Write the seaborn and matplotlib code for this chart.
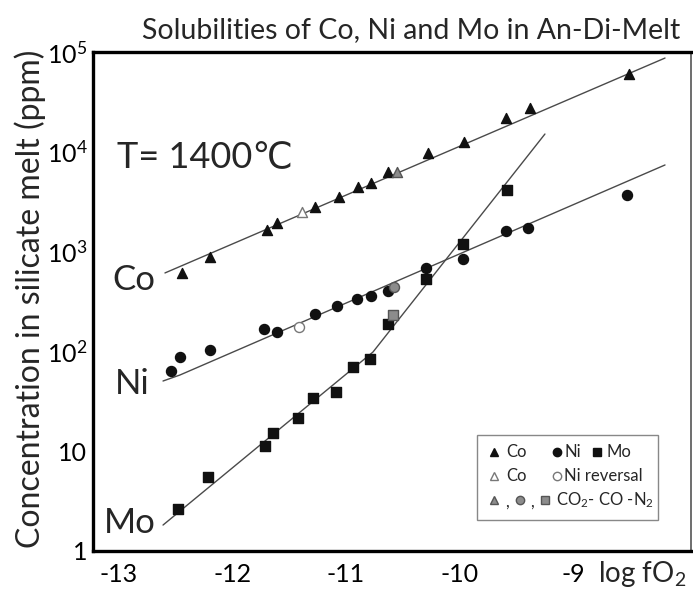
import numpy as np
import pandas as pd
import matplotlib
matplotlib.use("Agg")
import matplotlib.pyplot as plt
import matplotlib.transforms as mtransforms
from matplotlib.patches import Rectangle
from matplotlib.lines import Line2D
from matplotlib.ticker import FixedLocator, FixedFormatter, LogLocator, NullFormatter
import seaborn as sns

# Co (triangles): log fO2 vs ppm
co_x = [-12.445, -12.198, -11.696, -11.608, -11.273, -11.062, -10.894, -10.780,
        -10.630, -10.278, -9.960, -9.590, -9.379, -8.507]
co_y = [611, 883, 1645, 1935, 2800, 3525, 4440, 4870, 6280, 9730, 12500, 21800, 27500, 60200]
co_rev_x = [-11.388]
co_rev_y = [2495]
co_gas_x = [-10.551]
co_gas_y = [6280]

# Ni (circles)
ni_x = [-12.542, -12.463, -12.198, -11.722, -11.608, -11.273, -11.079, -10.903,
        -10.780, -10.630, -10.295, -9.969, -9.590, -9.396, -8.524]
ni_y = [63.6, 87.9, 103, 168, 156, 237, 285, 335, 359, 403, 685, 843, 1608, 1740, 3690]
ni_rev_x = [-11.414]
ni_rev_y = [176]
ni_gas_x = [-10.577]
ni_gas_y = [442]

# Mo (squares)
mo_x = [-12.480, -12.216, -11.714, -11.643, -11.423, -11.291, -11.088, -10.938,
        -10.789, -10.630, -10.295, -9.969, -9.581]
mo_y = [2.64, 5.51, 11.3, 15.2, 21.5, 34.1, 39.2, 69.8, 84, 188, 531, 1190, 4140]
mo_gas_x = [-10.586]
mo_gas_y = [232]

# trend lines drawn in the original figure
co_fit_x = [-12.595, -8.189]
co_fit_y = [611, 87000]
ni_fit_x = [-12.612, -12.463, -8.189]
ni_fit_y = [50.5, 58, 7380]
mo_fit_x = [-12.612, -10.762, -9.247]
mo_fit_y = [1.82, 98.6, 15070]

x_major = [-13, -12, -11, -10, -9]
x_minor = [-12.5, -11.5, -10.5, -9.5, -8.5]
y_major = [1, 10, 100, 1000, 10000, 100000]
y_labels = ['1', '10', r'$\mathregular{10^2}$', r'$\mathregular{10^3}$',
            r'$\mathregular{10^4}$', r'$\mathregular{10^5}$']

sns.set_theme(style="white")
plt.rcParams['font.family'] = ['Lato', 'DejaVu Sans']
plt.rcParams['mathtext.fontset'] = 'custom'
plt.rcParams['mathtext.rm'] = 'Lato'
plt.rcParams['mathtext.it'] = 'Lato:italic'
plt.rcParams['axes.unicode_minus'] = False

fig = plt.figure(figsize=(6.93, 5.89), dpi=100)
ax = fig.add_axes([93 / 693, 1 - 551 / 589, 598 / 693, 499 / 589])
ax.set_yscale('log')

# reference-pixel transform for annotations placed like the original scan
px = mtransforms.Affine2D().scale(1 / 693, -1 / 589).translate(0, 1) + fig.transFigure

line_col = '#4a4a4a'
for lx, ly in [(co_fit_x, co_fit_y), (ni_fit_x, ni_fit_y), (mo_fit_x, mo_fit_y)]:
    sns.lineplot(x=lx, y=ly, ax=ax, color=line_col, lw=1.0, estimator=None, sort=False)

dark = '#111111'
grey = '#8c8c8c'
groups = [
    (co_x, co_y, '^', dark, dark, 52),
    (ni_x, ni_y, 'o', dark, dark, 52),
    (mo_x, mo_y, 's', dark, dark, 42),
    (co_rev_x, co_rev_y, '^', 'white', '#777777', 52),
    (ni_rev_x, ni_rev_y, 'o', 'white', '#777777', 52),
    (co_gas_x, co_gas_y, '^', grey, '#555555', 52),
    (ni_gas_x, ni_gas_y, 'o', grey, '#555555', 52),
    (mo_gas_x, mo_gas_y, 's', grey, '#555555', 42),
]
for gx, gy, m, fc, ec, s in groups:
    d = pd.DataFrame({'logfo2': gx, 'ppm': gy})
    sns.scatterplot(data=d, x='logfo2', y='ppm', marker=m, color=fc, edgecolor=ec,
                    linewidth=1.0, s=s, ax=ax, legend=False, zorder=3)

ax.set_xlim(-13.229, -7.96)
ax.set_ylim(1, 1e5)
ax.xaxis.set_major_locator(FixedLocator(x_major))
ax.xaxis.set_minor_locator(FixedLocator(x_minor))
ax.yaxis.set_major_locator(FixedLocator(y_major))
ax.yaxis.set_major_formatter(FixedFormatter(y_labels))
ax.yaxis.set_minor_locator(LogLocator(base=10, subs=np.arange(2, 10)))
ax.yaxis.set_minor_formatter(NullFormatter())
ax.set_xlabel('')
ax.set_ylabel('')
ax.tick_params(which='both', direction='in', colors='#333333', labelcolor='black')
ax.tick_params(which='major', length=8, width=1.0, labelsize=18)
ax.tick_params(which='minor', length=4, width=0.8)
ax.tick_params(axis='x', pad=9)
ax.tick_params(axis='y', pad=4)

for side in ['left', 'bottom', 'top']:
    ax.spines[side].set_linewidth(2.4)
    ax.spines[side].set_color('black')
ax.spines['right'].set_linewidth(1.2)
ax.spines['right'].set_color('#555555')

fig.text(411, 30, 'Solubilities of Co, Ni and Mo in An-Di-Melt', transform=px,
         ha='center', va='center', fontsize=20.5)
fig.text(30, 299, 'Concentration in silicate melt (ppm)', transform=px,
         ha='center', va='center', rotation=90, fontsize=23)
fig.text(598, 574, r'log f$\mathregular{O_2}$', transform=px, ha='left', va='center',
         fontsize=20)
fig.text(117, 158, 'T= 1400℃', transform=px, ha='left', va='center', fontsize=26)
fig.text(112, 280, 'Co', transform=px, ha='left', va='center', fontsize=25)
fig.text(115, 384, 'Ni', transform=px, ha='left', va='center', fontsize=25)
fig.text(104, 523, 'Mo', transform=px, ha='left', va='center', fontsize=25)

# legend box drawn by hand to follow the three-row layout of the original
fig.add_artist(Rectangle((477, 435), 181, 85, transform=px, fill=True, facecolor='white',
                         edgecolor='#888888', lw=1.0, zorder=5))
keys = [
    (494, 452, '^', dark, dark), (557, 452, 'o', dark, dark), (597, 452, 's', dark, dark),
    (494, 476, '^', 'white', '#777777'), (557, 476, 'o', 'white', '#777777'),
    (494, 500, '^', grey, '#555555'), (520, 500, 'o', grey, '#555555'),
    (545, 500, 's', grey, '#555555'),
]
for kx, ky, m, fc, ec in keys:
    fig.add_artist(Line2D([kx], [ky], transform=px, marker=m, ms=6, mfc=fc, mec=ec,
                          mew=1.0, ls='none', zorder=6))
lab_kw = dict(transform=px, ha='left', va='center', fontsize=12, zorder=6)
fig.text(506, 452, 'Co', **lab_kw)
fig.text(564, 452, 'Ni', **lab_kw)
fig.text(606, 452, 'Mo', **lab_kw)
fig.text(506, 476, 'Co', **lab_kw)
fig.text(564, 476, 'Ni reversal', **lab_kw)
fig.text(505, 502, ',', **lab_kw)
fig.text(530, 502, ',', **lab_kw)
fig.text(556, 500, r'$\mathregular{CO_2}$- CO -$\mathregular{N_2}$', **lab_kw)

fig.savefig('out.png', dpi=100)
